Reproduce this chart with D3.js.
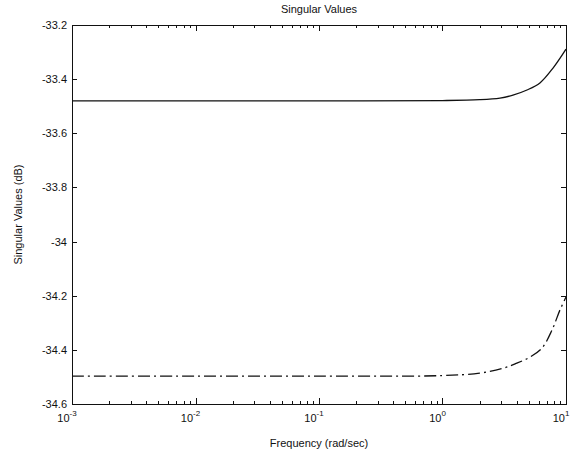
<!DOCTYPE html>
<html>
<head>
<meta charset="utf-8">
<script src="https://cdn.jsdelivr.net/npm/d3@7"></script>
<style>
body { margin:0; background:#fff; }
text { font-family:"Liberation Sans", Arial, sans-serif; fill:#111; }
</style>
</head>
<body>
<div id="chart"></div>
<script>
// frequencies (rad/sec) and singular values (dB)
var freq = [0.001, 0.01, 0.1, 1, 2, 2.92, 3.72, 4.83, 6.15, 7.85, 10];
var sv1 = [-33.48, -33.48, -33.48, -33.479, -33.476, -33.47, -33.459, -33.44, -33.414, -33.359, -33.289];
var freq2 = [0.001, 0.01, 0.1, 1, 2, 3.1, 4.0, 5.1, 6.4, 7.7, 8.93, 10];
var sv2 = [-34.497, -34.497, -34.497, -34.495, -34.486, -34.468, -34.449, -34.427, -34.393, -34.327, -34.253, -34.205];
var yTicks = [-33.2, -33.4, -33.6, -33.8, -34, -34.2, -34.4, -34.6];
var xTicks = [-3, -2, -1, 0, 1];

(function(){
	var width = 581, height = 458;
	var m = {left:72, right:15, top:25, bottom:54};

	var svg = d3.select("#chart").append("svg")
		.attr("width", width)
		.attr("height", height);

	var x = d3.scaleLog().domain([0.001, 10]).range([m.left, width - m.right]);
	var y = d3.scaleLinear().domain([-34.6, -33.2]).range([height - m.bottom, m.top]);

	var x0 = x.range()[0], x1 = x.range()[1], y0 = y.range()[0], y1 = y.range()[1];

	// minor log ticks along top and bottom
	var minor = [];
	xTicks.forEach(function(e){
		if (e < 1) for (var k = 2; k <= 9; k++) minor.push(k * Math.pow(10, e));
	});
	var g = svg.append("g").attr("stroke", "#111").attr("stroke-width", 1);

	g.selectAll(".mnb").data(minor).enter().append("line")
		.attr("x1", function(d){ return Math.round(x(d)) + 0.5; })
		.attr("x2", function(d){ return Math.round(x(d)) + 0.5; })
		.attr("y1", y0).attr("y2", y0 - 3);
	g.selectAll(".mnt").data(minor).enter().append("line")
		.attr("x1", function(d){ return Math.round(x(d)) + 0.5; })
		.attr("x2", function(d){ return Math.round(x(d)) + 0.5; })
		.attr("y1", y1).attr("y2", y1 + 3);

	g.selectAll(".mjb").data(xTicks).enter().append("line")
		.attr("x1", function(d){ return Math.round(x(Math.pow(10, d))) + 0.5; })
		.attr("x2", function(d){ return Math.round(x(Math.pow(10, d))) + 0.5; })
		.attr("y1", y0).attr("y2", y0 - 6);
	g.selectAll(".mjt").data(xTicks).enter().append("line")
		.attr("x1", function(d){ return Math.round(x(Math.pow(10, d))) + 0.5; })
		.attr("x2", function(d){ return Math.round(x(Math.pow(10, d))) + 0.5; })
		.attr("y1", y1).attr("y2", y1 + 6);

	g.selectAll(".yl").data(yTicks).enter().append("line")
		.attr("x1", x0).attr("x2", x0 + 5)
		.attr("y1", function(d){ return Math.round(y(d)) + 0.5; })
		.attr("y2", function(d){ return Math.round(y(d)) + 0.5; });
	g.selectAll(".yr").data(yTicks).enter().append("line")
		.attr("x1", x1).attr("x2", x1 - 5)
		.attr("y1", function(d){ return Math.round(y(d)) + 0.5; })
		.attr("y2", function(d){ return Math.round(y(d)) + 0.5; });

	svg.append("rect")
		.attr("x", x0 + 0.5).attr("y", y1 + 0.5)
		.attr("width", x1 - x0).attr("height", y0 - y1)
		.attr("fill", "none").attr("stroke", "#111");

	// y tick labels, plain hyphen minus like the original
	svg.selectAll(".ylab").data(yTicks).enter().append("text")
		.attr("x", x0 - 5)
		.attr("y", function(d){ return y(d) + 4; })
		.attr("text-anchor", "end")
		.style("font-size", "11px")
		.text(function(d){ return String(d); });

	// x tick labels 10^n
	var xl = svg.selectAll(".xlab").data(xTicks).enter().append("text")
		.attr("x", function(d){ return x(Math.pow(10, d)) - 5; })
		.attr("y", y0 + 18)
		.attr("text-anchor", "middle")
		.style("font-size", "11px");
	xl.append("tspan").text("10");
	xl.append("tspan")
		.attr("dy", -6)
		.style("font-size", "8px")
		.text(function(d){ return String(d); });

	var line = d3.line()
		.x(function(d){ return x(d[0]); })
		.y(function(d){ return y(d[1]); })
		.curve(d3.curveCatmullRom.alpha(0.5));

	svg.append("path")
		.datum(freq.map(function(f, i){ return [f, sv1[i]]; }))
		.attr("d", line)
		.attr("fill", "none")
		.attr("stroke", "#111")
		.attr("stroke-width", 1.3);

	svg.append("path")
		.datum(freq2.map(function(f, i){ return [f, sv2[i]]; }))
		.attr("d", line)
		.attr("fill", "none")
		.attr("stroke", "#111")
		.attr("stroke-width", 1.3)
		.attr("stroke-dasharray", "12,4,2,4");

	svg.append("text")
		.attr("x", (x0 + x1) / 2)
		.attr("y", 13)
		.attr("text-anchor", "middle")
		.style("font-size", "11px")
		.text("Singular Values");

	svg.append("text")
		.attr("x", (x0 + x1) / 2)
		.attr("y", 447)
		.attr("text-anchor", "middle")
		.style("font-size", "11px")
		.text("Frequency (rad/sec)");

	svg.append("text")
		.attr("transform", "translate(22," + (y0 + y1) / 2 + ") rotate(-90)")
		.attr("text-anchor", "middle")
		.style("font-size", "11px")
		.text("Singular Values (dB)");
})();
</script>
</body>
</html>
